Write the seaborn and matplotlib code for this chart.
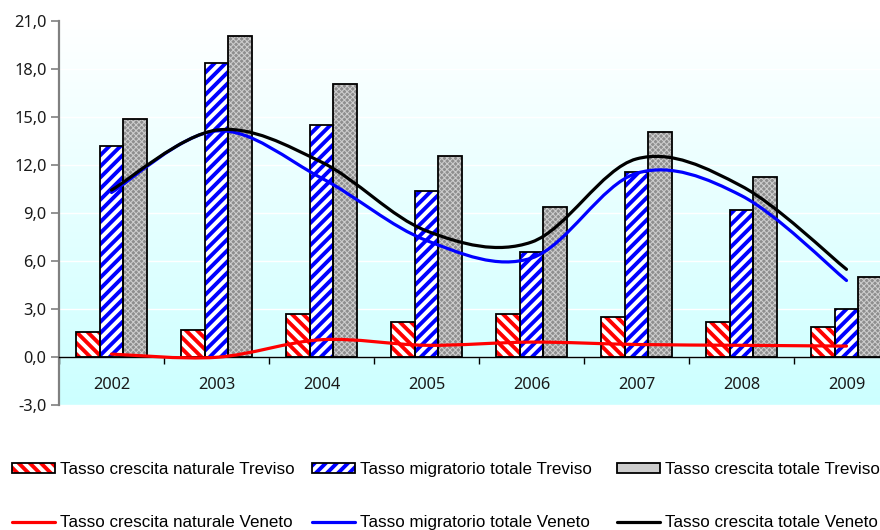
import numpy as np
import pandas as pd
import matplotlib
matplotlib.use("Agg")
import matplotlib.pyplot as plt
import seaborn as sns
from matplotlib.path import Path
from matplotlib.patches import PathPatch, Patch
from matplotlib.lines import Line2D
from matplotlib.legend_handler import HandlerTuple
from matplotlib.ticker import FixedLocator, FuncFormatter, NullFormatter
from matplotlib.colors import LinearSegmentedColormap

# ---------------- data ----------------
years = ["2002", "2003", "2004", "2005", "2006", "2007", "2008", "2009"]
nat_treviso = [1.6, 1.7, 2.7, 2.2, 2.7, 2.5, 2.2, 1.9]
mig_treviso = [13.2, 18.4, 14.5, 10.4, 6.6, 11.6, 9.2, 3.0]
tot_treviso = [14.9, 20.1, 17.1, 12.6, 9.4, 14.1, 11.3, 5.0]
nat_veneto = [0.2, 0.0, 1.1, 0.75, 0.95, 0.8, 0.75, 0.7]
mig_veneto = [10.3, 14.15, 11.2, 7.3, 6.2, 11.5, 10.1, 4.8]
tot_veneto = [10.45, 14.2, 12.2, 7.9, 7.2, 12.4, 10.7, 5.5]

bar_labels = ["Tasso crescita naturale Treviso",
              "Tasso migratorio totale Treviso",
              "Tasso crescita totale Treviso"]
line_labels = ["Tasso crescita naturale Veneto",
               "Tasso migratorio totale Veneto",
               "Tasso crescita totale Veneto"]
y_ticks = [-3, 0, 3, 6, 9, 12, 15, 18, 21]

df = pd.DataFrame({
    "year": years * 3,
    "series": sum([[l] * len(years) for l in bar_labels], []),
    "value": nat_treviso + mig_treviso + tot_treviso,
})

# ---------------- style ----------------
sns.set_theme(style="white")
plt.rcParams["font.family"] = ["Liberation Sans", "DejaVu Sans"]
plt.rcParams["hatch.linewidth"] = 2.8

W, H = 880, 530
fig = plt.figure(figsize=(W / 100, H / 100), dpi=100)
ax_left, ax_right = 59 / W, 899 / W
ax_bottom, ax_top = (H - 405.3) / H, (H - 21.3) / H
ax = fig.add_axes([ax_left, ax_bottom, ax_right - ax_left, ax_top - ax_bottom])

# background gradient (white top -> light cyan bottom)
cmap = LinearSegmentedColormap.from_list("bg", ["#ccffff", "#ffffff"])
grad = np.linspace(0, 1, 256).reshape(-1, 1)
ax.imshow(grad, cmap=cmap, aspect="auto", extent=(0, 1, 0, 1),
          transform=ax.transAxes, origin="lower", zorder=-5)

hatch_styles = [
    dict(face="white", hcol="#ff0000", hatch="\\\\\\", hlw=2.8),
    dict(face="white", hcol="#0000ff", hatch="///", hlw=2.8),
    dict(face="#8e8e8e", hcol="#cdcdcd", hatch="xxxxxx", hlw=0.75),
]

sns.barplot(data=df, x="year", y="value", hue="series", order=years,
            hue_order=bar_labels, width=0.68, errorbar=None, legend=False,
            palette=["white", "white", "white"], ax=ax, zorder=2)
for cont, st in zip(ax.containers, hatch_styles):
    for p in cont.patches:
        p.set_facecolor(st["face"])
        p.set_edgecolor(st["hcol"])
        p.set_hatch(st["hatch"])
        p.set_linewidth(0)
        if hasattr(p, "set_hatch_linewidth"):
            p.set_hatch_linewidth(st["hlw"])
sns.barplot(data=df, x="year", y="value", hue="series", order=years,
            hue_order=bar_labels, width=0.68, errorbar=None, legend=False,
            fill=False, palette=["black", "black", "black"], linewidth=1.3,
            ax=ax, zorder=3)


# ---------------- smoothed lines (Bezier through the data points) ----------------
def smooth_path(xs, ys):
    pts = np.column_stack([xs, ys]).astype(float)
    n = len(pts)
    verts = [pts[0]]
    codes = [Path.MOVETO]
    for i in range(n - 1):
        p0 = pts[i - 1] if i > 0 else pts[i]
        p1 = pts[i]
        p2 = pts[i + 1]
        p3 = pts[i + 2] if i + 2 < n else pts[i + 1]
        c1 = p1 + (p2 - p0) / 6.0
        c2 = p2 - (p3 - p1) / 6.0
        verts += [c1, c2, p2]
        codes += [Path.CURVE4] * 3
    return Path(verts, codes)


xpos = np.arange(len(years))
line_colors = ["#ff0000", "#0000ff", "#000000"]
for vals, col in zip([nat_veneto, mig_veneto, tot_veneto], line_colors):
    pp = PathPatch(smooth_path(xpos, vals), facecolor="none", edgecolor=col,
                   lw=2.3, zorder=5, capstyle="round", joinstyle="round")
    ax.add_patch(pp)

# ---------------- axes ----------------
ax.set_xlim(-0.5, len(years) - 0.5)
ax.set_ylim(-3, 21)
ax.set_xlabel("")
ax.set_ylabel("")

ax.yaxis.set_major_locator(FixedLocator(y_ticks))
ax.yaxis.set_major_formatter(FuncFormatter(lambda v, p: f"{v:.1f}".replace(".", ",")))
ax.grid(axis="y", color="white", lw=1.0, zorder=-1)
ax.grid(axis="x", visible=False)
ax.set_axisbelow(True)

for s in ["top", "right"]:
    ax.spines[s].set_visible(False)
ax.spines["left"].set_color("#808080")
ax.spines["left"].set_linewidth(1.6)
ax.spines["bottom"].set_position(("data", 0))
ax.spines["bottom"].set_color("#000000")
ax.spines["bottom"].set_linewidth(1.0)
ax.spines["bottom"].set_zorder(4)

ax.xaxis.set_major_locator(FixedLocator(np.arange(-0.5, len(years) + 0.5, 1.0)))
ax.xaxis.set_major_formatter(NullFormatter())
ax.set_xticks(xpos, minor=True)
ax.set_xticklabels(years, minor=True)
ax.tick_params(axis="x", which="major", direction="out", length=5, width=1,
               color="#000000", bottom=True)
ax.tick_params(axis="x", which="minor", length=0, pad=14, labelsize=11.8,
               labelcolor="#1a1a1a", bottom=True)
ax.tick_params(axis="y", direction="out", length=6, width=1.2, color="#808080",
               left=True, labelsize=11.8, labelcolor="#1a1a1a", pad=3)
for lab in ax.get_xticklabels(minor=True) + ax.get_yticklabels():
    lab.set_fontfamily(["Noto Sans", "DejaVu Sans"])

# ---------------- legend: one block per column ----------------
legend_x_px = [12, 312, 617]
for k, (st, bl, lc, ll) in enumerate(zip(hatch_styles, bar_labels, line_colors, line_labels)):
    hp = Patch(facecolor=st["face"], edgecolor=st["hcol"], hatch=st["hatch"], lw=0)
    if hasattr(hp, "set_hatch_linewidth"):
        hp.set_hatch_linewidth(st["hlw"])
    op = Patch(facecolor="none", edgecolor="black", lw=1.3)
    ln = Line2D([], [], color=lc, lw=2.3)
    leg = fig.legend([(hp, op), ln], [bl, ll], ncol=1, loc="upper left",
                     bbox_to_anchor=(legend_x_px[k] / W, (H - 462) / H),
                     frameon=False, fontsize=12.25, handlelength=2.55,
                     handleheight=0.55, handletextpad=0.3, labelspacing=2.25,
                     borderpad=0, borderaxespad=0,
                     handler_map={tuple: HandlerTuple(ndivide=1, pad=0)})
    for t in leg.get_texts():
        t.set_color("#000000")

fig.savefig("out.png", dpi=100)
